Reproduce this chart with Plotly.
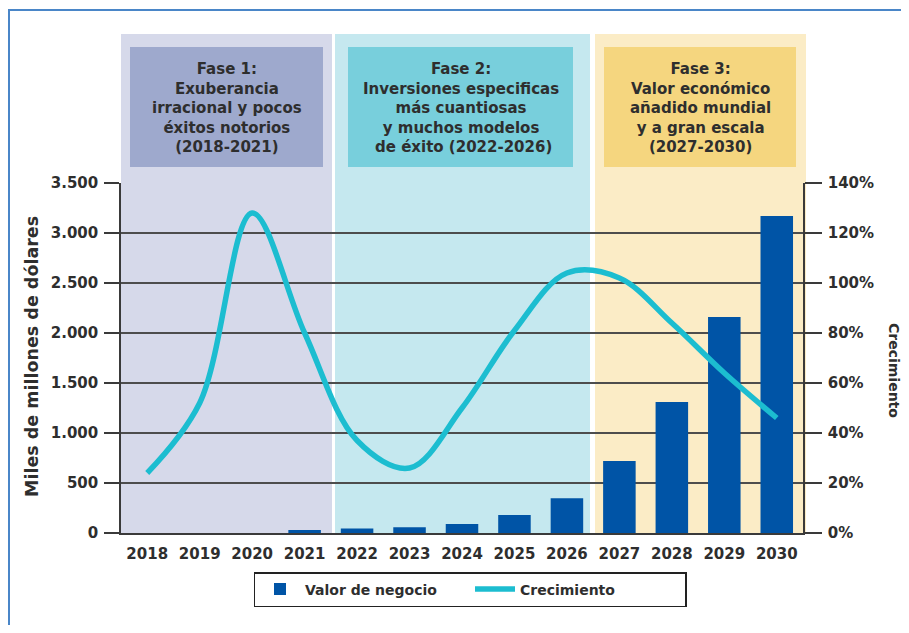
import plotly.graph_objects as go

years = ["2018", "2019", "2020", "2021", "2022", "2023", "2024", "2025", "2026", "2027", "2028", "2029", "2030"]
valor_negocio = [0, 0, 0, 30, 45, 57, 90, 180, 347, 720, 1310, 2160, 3170]
crecimiento = [24, 52, 128, 80, 37, 26, 50, 81, 104, 102, 84, 64, 46]

left_ticks = [0, 500, 1000, 1500, 2000, 2500, 3000, 3500]
left_labels = ["0", "500", "1.000", "1.500", "2.000", "2.500", "3.000", "3.500"]
right_ticks = [0, 20, 40, 60, 80, 100, 120, 140]
right_labels = ["0%", "20%", "40%", "60%", "80%", "100%", "120%", "140%"]

phase_texts = [
    "Fase 1:<br>Exuberancia<br>irracional y pocos<br>éxitos notorios<br>(2018-2021)",
    "Fase 2:<br>Inversiones especificas<br>más cuantiosas<br>y muchos modelos<br> de éxito (2022-2026)",
    "Fase 3:<br>Valor económico<br>añadido mundial<br>y a gran escala<br>(2027-2030)",
]

FONT = "DejaVu Sans, Verdana, sans-serif"
TXT = "#2e2e2e"
OFF = 8  # page body margin
W, H = 909 - 2 * OFF, 633 - 2 * OFF
# target plot area in window pixels: x 121..803, y 183..533
L, T = 121 - OFF, 183 - OFF
R, B = W - (803 - OFF), H - (533 - OFF)
pw, ph = W - L - R, H - T - B


def px2xp(x):
    return (x - OFF - L) / pw


def px2yp(y):
    return (H - B - (y - OFF)) / ph


def bfont(size):
    return dict(family=FONT, size=size, color=TXT, weight="bold")


fig = go.Figure()
fig.add_trace(go.Bar(
    x=years, y=valor_negocio, name="Valor de negocio",
    marker=dict(color="#0054a6", line=dict(width=0)), yaxis="y",
))
fig.add_trace(go.Scatter(
    x=years, y=crecimiento, name="Crecimiento", mode="lines",
    line=dict(color="#1cbdd0", width=5.5, shape="spline", smoothing=1.0), yaxis="y2",
))

shapes = []
shapes.append(dict(type="rect", xref="paper", yref="paper",
                   x0=px2xp(9), x1=px2xp(960), y0=px2yp(700), y1=px2yp(10),
                   line=dict(color="#4a86c8", width=2), fillcolor="rgba(0,0,0,0)", layer="below"))
bands = [(121, 332, "#d6d9ea"), (335, 590, "#c5e8ef"), (595, 806, "#fbecc6")]
boxes = [(130, 323, "#9ea9cd"), (348, 573, "#78cfdc"), (604, 796, "#f5d67f")]
for x0, x1, c in bands:
    shapes.append(dict(type="rect", xref="paper", yref="paper",
                       x0=px2xp(x0), x1=px2xp(x1), y0=0, y1=px2yp(34),
                       line=dict(width=0), fillcolor=c, layer="below"))
for x0, x1, c in boxes:
    shapes.append(dict(type="rect", xref="paper", yref="paper",
                       x0=px2xp(x0), x1=px2xp(x1), y0=px2yp(167), y1=px2yp(47),
                       line=dict(width=0), fillcolor=c, layer="below"))

annotations = []
for (x0, x1, _), t in zip(boxes, phase_texts):
    annotations.append(dict(xref="paper", yref="paper", x=px2xp((x0 + x1) / 2), y=px2yp(108),
                            xanchor="center", yanchor="middle", text=t,
                            showarrow=False, align="center", font=bfont(15)))
annotations.append(dict(xref="paper", yref="paper", x=px2xp(32), y=px2yp(357),
                        xanchor="center", yanchor="middle", text="Miles de millones de dólares",
                        textangle=-90, showarrow=False, font=bfont(17.5)))
annotations.append(dict(xref="paper", yref="paper", x=px2xp(894), y=px2yp(370),
                        xanchor="center", yanchor="middle", text="Crecimiento",
                        textangle=90, showarrow=False, font=bfont(14)))

fig.update_layout(
    width=W, height=H,
    margin=dict(l=L, r=R, t=T, b=B, autoexpand=False),
    paper_bgcolor="white", plot_bgcolor="rgba(0,0,0,0)",
    bargap=0.38,
    showlegend=True,
    legend=dict(orientation="h", x=px2xp(470), xanchor="center", y=px2yp(572), yanchor="top",
                bordercolor="#222", borderwidth=1.5, bgcolor="white",
                font=bfont(14), itemwidth=40, entrywidth=160, entrywidthmode="pixels"),
    shapes=shapes,
    annotations=annotations,
    xaxis=dict(type="category", tickfont=bfont(15),
               showgrid=False, ticks="", showline=True, linecolor="#3a3a3a", linewidth=1.5,
               range=[-0.5, 12.5], fixedrange=True, ticklabelstandoff=6),
    yaxis=dict(range=[0, 3500], tickvals=left_ticks, ticktext=left_labels,
               tickfont=bfont(15),
               showgrid=True, gridcolor="#4d4d4d", gridwidth=1.5,
               ticks="outside", ticklen=15, tickwidth=1.5, tickcolor="#3a3a3a",
               showline=True, linecolor="#3a3a3a", linewidth=1.5, zeroline=False,
               ticklabelstandoff=3),
    yaxis2=dict(range=[0, 140], tickvals=right_ticks, ticktext=right_labels, overlaying="y", side="right",
                tickfont=bfont(15),
                showgrid=False, ticks="outside", ticklen=17, tickwidth=1.5, tickcolor="#3a3a3a",
                showline=True, linecolor="#3a3a3a", linewidth=1.5, zeroline=False,
                ticklabelstandoff=3),
)
fig.write_html("out.html")
